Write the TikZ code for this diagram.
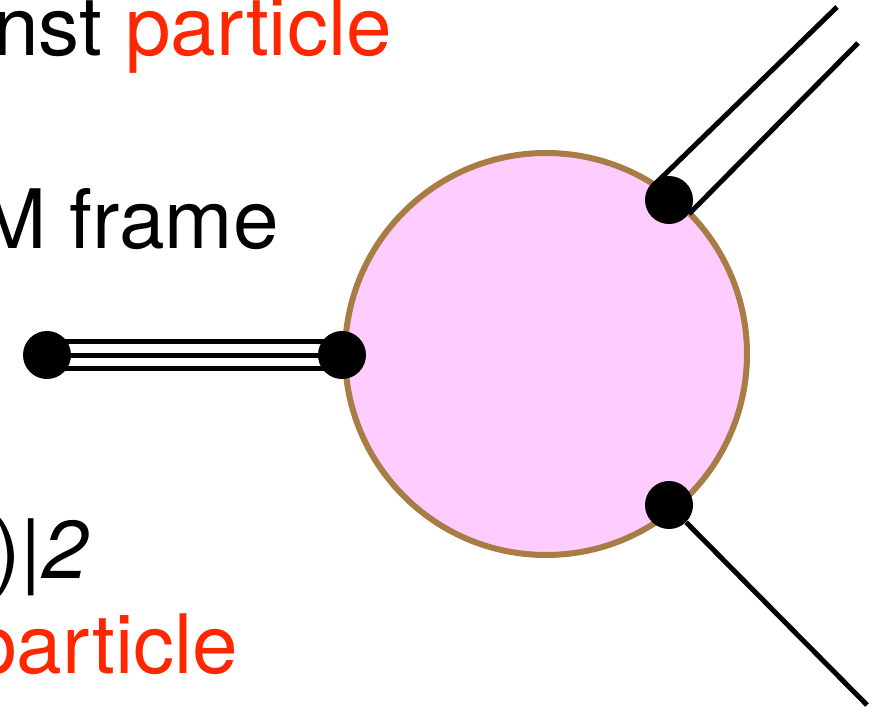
\documentclass[tikz,border=0pt]{standalone}
\usepackage{fontspec}
\setmainfont{TeX Gyre Heros}
\usetikzlibrary{calc,positioning}
\definecolor{keyred}{HTML}{FF2600}
\definecolor{blobpink}{HTML}{FFCCFF}
\definecolor{blobrim}{HTML}{A97B45}

\begin{document}
\begin{tikzpicture}[x=0.5pt, y=-0.5pt,
  vertexdot/.style={circle, fill=black, inner sep=0pt, minimum size=24pt},
  blob/.style={circle, draw=blobrim, fill=blobpink, line width=3pt, inner sep=0pt, minimum size=201pt},
  leg/.style={line width=2.5pt},
  lbl/.style={anchor=base west, inner sep=0pt, font=\fontsize{41}{49}\selectfont}]
  \useasboundingbox (0,0) rectangle (891,707);
  \clip (0,0) rectangle (891,707);

  % The blob
  \node[blob] (blob) at (546,354) {};

  % Vertices
  \node[vertexdot] (left) at (47,355) {};
  \node[vertexdot] (in) at (342,355) {};
  \node[vertexdot] (outa) at (669,200) {};
  \node[vertexdot] (outb) at (669,505) {};

  % Incoming triple line
  \foreach \dy in {-13.5,0,13.5}
    \draw[leg] ($(left)+(0,\dy)$) -- ($(in)+(0,\dy)$);

  % Outgoing double line
  \coordinate (enda) at (837,7);
  \coordinate (endb) at (858,43);
  \draw[leg] ($(outa)+(-15,-15)$) -- (enda);
  \draw[leg] ($(outa)+(20,14)$) -- (endb);

  % Outgoing single line
  \coordinate (endc) at (867,705);
  \draw[leg] (outb) -- (endc);

  % Labels
  \node[lbl] (norm) at (-7,55) {nst \textcolor{keyred}{particle}};
  \node[lbl] (frame) at (-22,248) {M frame};
  \node[lbl] (amp) at (-7,578) {)|\textit{2}};
  \node[lbl, text=keyred] (anti) at (-29,673) {particle};

\end{tikzpicture}
\end{document}
